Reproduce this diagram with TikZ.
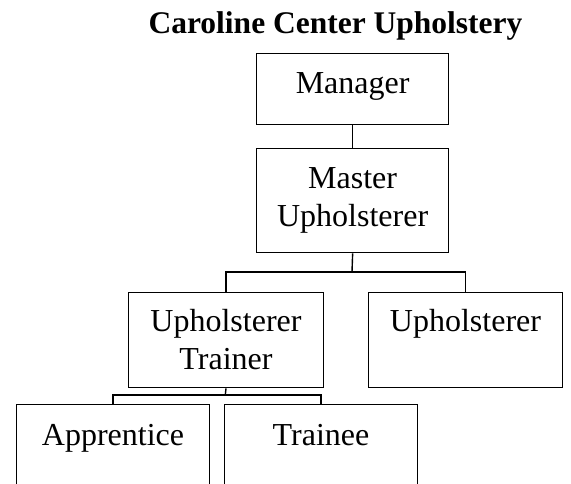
\documentclass[tikz,border=0pt]{standalone}
\usepackage{fontspec}
\setmainfont{Liberation Serif}
\begin{document}
\begin{tikzpicture}[x=1pt,y=-1pt,
  box/.style={draw=black,line width=1.3pt,rectangle,inner sep=0pt,anchor=north west},
  txt/.style={inner sep=0pt,anchor=base,align=center,font=\fontsize{32pt}{37.6pt}\selectfont},
  conn/.style={draw=black,line width=1.4pt}]
\useasboundingbox (0,0) rectangle (571,483);
\clip (0,0) rectangle (571,483);
\node[inner sep=0pt,anchor=base,font=\fontsize{31.5pt}{36pt}\selectfont\bfseries] (title) at (335.5,33.3) {Caroline Center Upholstery};
% boxes
\node[box,minimum width=192pt,minimum height=71pt] (mgr) at (256,53) {};
\node[box,minimum width=192pt,minimum height=104pt] (mst) at (256,148) {};
\node[box,minimum width=194.7pt,minimum height=95pt] (trn) at (128,292) {};
\node[box,minimum width=193.7pt,minimum height=95pt] (uph) at (368,292) {};
\node[box,minimum width=192.7pt,minimum height=120pt] (app) at (16,404) {};
\node[box,minimum width=192.7pt,minimum height=120pt] (tne) at (224,404) {};
% texts (base anchor = last line baseline)
\node[txt] (mgrt) at ([yshift=-40.3pt]mgr.north) {Manager};
\node[txt] (mstt) at ([yshift=-78.3pt]mst.north) {Master\\Upholsterer};
\node[txt] (trnt) at ([yshift=-77.3pt]trn.north) {Upholsterer\\Trainer};
\node[txt] (upht) at ([yshift=-39.7pt]uph.north) {Upholsterer};
\node[txt] (appt) at ([yshift=-41pt]app.north) {Apprentice};
\node[txt] (tnet) at ([yshift=-41pt]tne.north) {Trainee};
% connectors
\coordinate (j1) at (352,272);
\coordinate (j2) at (225.3,395);
\draw[conn] (mgr.south) -- (mst.north);
\draw[conn] (mst.south) -- (j1);
\draw[conn] (trn.north) |- (j1) -| (uph.north);
\draw[conn] (trn.south) -- (j2);
\draw[conn] (app.north) |- (j2) -| (tne.north);
\end{tikzpicture}
\end{document}
